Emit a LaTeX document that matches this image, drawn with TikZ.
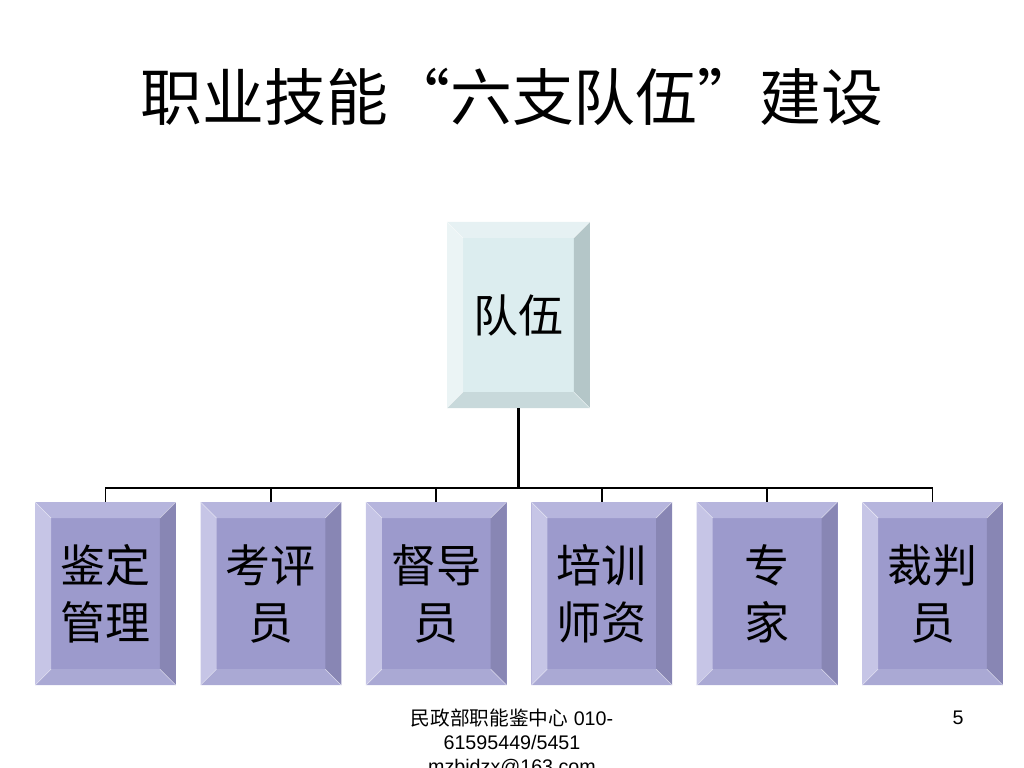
\documentclass[tikz,border=0pt]{standalone}
\usepackage{fontspec}
\setmainfont{Liberation Sans}
\newfontfamily\cjk{Noto Sans CJK SC}
\usetikzlibrary{calc, positioning}

\definecolor{Tfaccia}{HTML}{DCEDEF}
\definecolor{Tcima}{HTML}{E6F1F3}
\definecolor{Tsinistra}{HTML}{EBF4F5}
\definecolor{Tdestra}{HTML}{B4C6C8}
\definecolor{Tfondo}{HTML}{C8D9DB}
\definecolor{Bfaccia}{HTML}{9C9ACC}
\definecolor{Bcima}{HTML}{B6B5DD}
\definecolor{Bsinistra}{HTML}{C6C5E6}
\definecolor{Bdestra}{HTML}{8886B4}
\definecolor{Bfondo}{HTML}{AAA9D4}

\begin{document}
\begin{tikzpicture}[
  smusso/.style={inner sep=0pt, align=center, fill=#1faccia,
    path picture={
      \coordinate (pa) at (path picture bounding box.north west);
      \coordinate (pb) at (path picture bounding box.north east);
      \coordinate (pc) at (path picture bounding box.south east);
      \coordinate (pd) at (path picture bounding box.south west);
      \fill[#1cima] (pa) -- (pb) -- ($(pb)+(-0.4,-0.4)$) -- ($(pa)+(0.4,-0.4)$) -- cycle;
      \fill[#1sinistra] (pa) -- (pd) -- ($(pd)+(0.4,0.4)$) -- ($(pa)+(0.4,-0.4)$) -- cycle;
      \fill[#1destra] (pb) -- (pc) -- ($(pc)+(-0.4,0.4)$) -- ($(pb)+(-0.4,-0.4)$) -- cycle;
      \fill[#1fondo] (pd) -- (pc) -- ($(pc)+(-0.4,0.4)$) -- ($(pd)+(0.4,0.4)$) -- cycle;
      \draw[white, opacity=0.6, line width=0.4pt]
        (pa) -- ($(pa)+(0.4,-0.4)$) (pb) -- ($(pb)+(-0.4,-0.4)$)
        (pc) -- ($(pc)+(-0.4,0.4)$) (pd) -- ($(pd)+(0.4,0.4)$);
    }},
  capo/.style={smusso=T, minimum width=3.57cm, minimum height=4.65cm,
               font=\cjk\fontsize{32}{40}\selectfont},
  ruolo/.style={smusso=B, minimum width=3.52cm, minimum height=4.58cm,
                font=\cjk\fontsize{32}{40.5}\selectfont},
  tronco/.style={draw=black, line width=2.1pt},
  ramo/.style={draw=black, line width=1.4pt}
]
\useasboundingbox (0,0) rectangle (25.6,-19.2);

% titolo
\node (titolo) at (12.8,-2.43) {\cjk\fontsize{44}{52}\selectfont 职业技能“六支队伍”建设};

% organigramma
\node[capo] (dui) at (12.96,-7.875) {\raisebox{-0.12cm}{队伍}};
\foreach \i/\testo in {1/鉴定\\管理, 2/考评\\员, 3/督导\\员, 4/培训\\师资, 5/专\\家, 6/裁判\\员} {
  \node[ruolo] (b\i) at ({2.6375+4.135*(\i-1)},-14.84) {\testo};
}
\coordinate (bus) at ($(dui.south)+(0,-2.0)$);
\draw[tronco] (dui.south) -- (bus);
\foreach \i in {1,...,6} {
  \draw[ramo] (bus) -| (b\i.north);
}

% piede
\node[anchor=north, align=center, font=\fontsize{14}{17}\selectfont] (piede) at (12.8,-17.6)
  {{\cjk 民政部职能鉴中心} 010-\\61595449/5451\\mzbjdzx@163.com};
\node[font=\fontsize{14}{17}\selectfont] (pagina) at (23.95,-17.95) {5};
\end{tikzpicture}
\end{document}
